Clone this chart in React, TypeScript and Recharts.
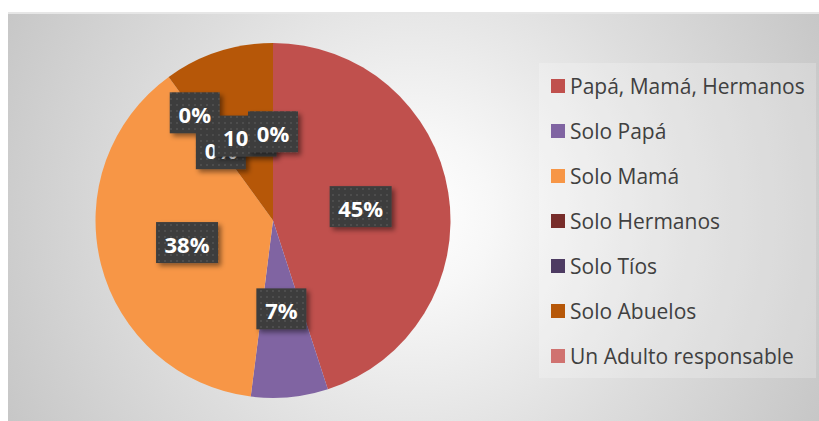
import React from 'react';
import { PieChart, Pie, Cell, Legend } from 'recharts';

const categories = [
  'Papá, Mamá, Hermanos',
  'Solo Papá',
  'Solo Mamá',
  'Solo Hermanos',
  'Solo Tíos',
  'Solo Abuelos',
  'Un Adulto responsable',
];
const values = [45, 7, 38, 0, 0, 10, 0];
const colors = ['#C0504D', '#8064A2', '#F79646', '#772C2A', '#4D3B62', '#B65708', '#D07270'];
// label distance as fraction of radius (Excel moved one overlapping label outward)
const labelRadius = [0.5, 0.5, 0.5, 0.75, 0.5, 0.5, 0.5];

const data = categories.map((name, i) => ({ name, value: values[i] }));

const RAD = Math.PI / 180;

const renderLabel = (props: any) => {
  const { cx, cy, midAngle, outerRadius, percent, index } = props;
  const r = outerRadius * labelRadius[index];
  const x = cx + r * Math.cos(-midAngle * RAD);
  const y = cy + r * Math.sin(-midAngle * RAD);
  const text = `${Math.round(percent * 100)}%`;
  const w = text.length >= 3 ? 62 : 50;
  const h = 41;
  return (
    <g key={`lbl-${index}`}>
      {index === 0 && (
        <defs>
          <pattern id="dotsPat" width="6" height="6" patternUnits="userSpaceOnUse">
            <rect width="6" height="6" fill="#3d3d3d" />
            <circle cx="3" cy="3" r="0.9" fill="#555555" />
          </pattern>
          <filter id="lblShadow" x="-30%" y="-30%" width="170%" height="170%">
            <feDropShadow dx="3" dy="3" stdDeviation="2.5" floodColor="#000" floodOpacity="0.45" />
          </filter>
        </defs>
      )}
      <rect x={x - w / 2} y={y - h / 2} width={w} height={h} fill="url(#dotsPat)" filter="url(#lblShadow)" />
      <text
        x={x}
        y={y + 1}
        textAnchor="middle"
        dominantBaseline="central"
        fill="#ffffff"
        fontFamily="'Open Sans', sans-serif"
        fontWeight={700}
        fontSize={22}
      >
        {text}
      </text>
    </g>
  );
};

const renderLegend = () => (
  <div
    style={{
      position: 'relative',
      width: 277,
      height: 315,
      background: 'rgba(255,255,255,0.22)',
    }}
  >
    {categories.map((name, i) => (
      <div
        key={name}
        style={{
          position: 'absolute',
          left: 12,
          top: 23 + 45 * i - 15,
          height: 30,
          display: 'flex',
          alignItems: 'center',
          whiteSpace: 'nowrap',
        }}
      >
        <span style={{ display: 'inline-block', width: 14, height: 14, background: colors[i], marginRight: 5 }} />
        <span style={{ fontFamily: "'Open Sans', sans-serif", fontSize: 21, color: '#404040', lineHeight: '30px' }}>
          {name}
        </span>
      </div>
    ))}
  </div>
);

export default function App() {
  return (
    <div style={{ position: 'fixed', left: 0, top: 0, width: 819, height: 421, background: '#ffffff' }}>
      <div
        style={{
          position: 'absolute',
          left: 8,
          top: 12,
          width: 811,
          height: 409,
          borderTop: '2px solid #e6e6e6',
          boxSizing: 'border-box',
          background: 'radial-gradient(circle at 405px 200px, #ffffff 0px, #f7f7f7 80px, #dddddd 270px, #c6c6c6 460px)',
        }}
      />
      <div style={{ position: 'absolute', left: 0, top: 0 }}>
        <PieChart width={819} height={421} margin={{ top: 0, right: 0, bottom: 0, left: 0 }}>
          <Pie
            data={data}
            dataKey="value"
            nameKey="name"
            cx={273}
            cy={220.5}
            outerRadius={177.5}
            startAngle={90}
            endAngle={-270}
            stroke="none"
            label={renderLabel}
            labelLine={false}
            isAnimationActive={false}
          >
            {data.map((d, i) => (
              <Cell key={d.name} fill={colors[i]} />
            ))}
          </Pie>
          <Legend
            content={renderLegend}
            wrapperStyle={{ position: 'absolute', left: 539, top: 63, width: 277, height: 315 }}
          />
        </PieChart>
      </div>
    </div>
  );
}
